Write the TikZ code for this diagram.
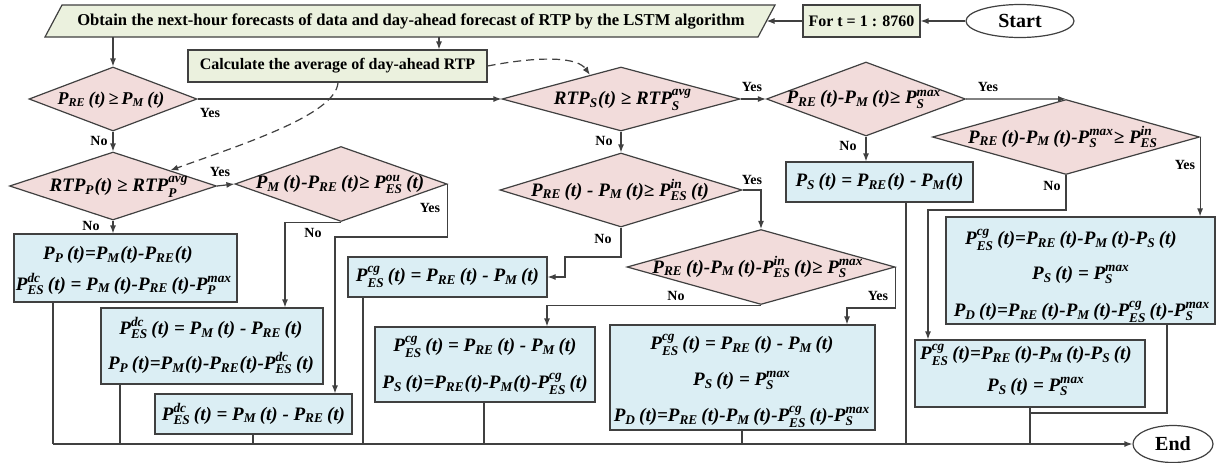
\documentclass[tikz,border=0pt]{standalone}
\usepackage{fontspec}
\setmainfont{Liberation Serif}
\usepackage{amsmath}
\usetikzlibrary{shapes.geometric,arrows.meta,calc}
\definecolor{pinkc}{RGB}{242,220,219}
\definecolor{bluec}{RGB}{219,238,244}
\definecolor{greenc}{RGB}{235,241,222}
\definecolor{linec}{RGB}{64,64,64}
\newcommand\Vs[2]{$\text{#1}_{\text{#2}}$}
\newcommand\Vb[3]{$\text{#1}_{\text{#2}}^{\text{#3}}$}
\newcommand\Tt{\,(t)}
\begin{document}
\begin{tikzpicture}[x=0.5pt,y=-0.5pt,
 ln/.style={draw=linec,line width=0.6pt},
 arr/.style={ln,-{Latex[length=4pt,width=3pt]}},
 dsh/.style={arr,dash pattern=on 4pt off 2.5pt},
 dia/.style={diamond,draw=linec,line width=0.6pt,fill=pinkc,inner sep=0pt},
 box/.style={rectangle,draw=linec,line width=0.6pt,fill=bluec,inner sep=0pt,font=\fontsize{9.5}{11}\selectfont\bfseries\itshape},
 gbox/.style={rectangle,draw=linec,line width=0.6pt,fill=greenc,inner sep=0pt,font=\fontsize{8}{10}\selectfont\bfseries},
 mt/.style={inner sep=0pt,font=\fontsize{9.5}{11}\selectfont\bfseries\itshape},
 mb/.style={mt,anchor=base},
 lab/.style={inner sep=0pt,font=\fontsize{7}{8}\selectfont\bfseries},
 term/.style={ellipse,draw=linec,line width=0.6pt,fill=white,inner sep=0pt,font=\fontsize{10}{12}\selectfont\bfseries}]

\useasboundingbox (0,0) rectangle (1217,462);
\fill[white] (0,0) rectangle (1217,462);

% ---------- top row
\node[term,minimum width=54pt,minimum height=16.5pt] (start) at (1020,21) {Start};
\node[gbox,minimum width=58.5pt,minimum height=16pt] (for) at (861.5,21) {For t = 1 : 8760};
\draw[ln,fill=greenc] (45,37) -- (62,5) -- (775,5) -- (758,37) -- cycle;
\node[inner sep=0pt,font=\fontsize{8.3}{10}\selectfont\bfseries] (obt) at (411,21) {Obtain the next-hour forecasts of data and day-ahead forecast of RTP by the LSTM algorithm};
\coordinate (pr) at (766.5,21);
\coordinate (pb1) at (113,37);
\coordinate (pb2) at (439,37);
\node[gbox,minimum width=149.5pt,minimum height=16pt] (calc) at (337.5,66) {Calculate the average of day-ahead RTP};

% ---------- diamonds
\node[dia,minimum width=84pt,minimum height=32pt] (d1) at (113,99) {};
\node[mt,font=\fontsize{9}{11}\selectfont\bfseries\itshape] (d1t) at (111,100) {\Vs{P}{RE}\Tt\,≥\,\Vs{P}{M}\Tt};
\node[dia,minimum width=119pt,minimum height=32pt] (d2) at (621,99) {};
\node[mt] (d2t) at (623,100) {\Vs{RTP}{S}(t) ≥ \Vb{RTP}{S}{avg}};
\node[dia,minimum width=99.5pt,minimum height=37pt] (d4) at (866,99) {};
\node[mt] (d4t) at (864,99) {\Vs{P}{RE}\Tt-\Vs{P}{M}\Tt≥ \Vb{P}{S}{max}};
\node[dia,minimum width=133.5pt,minimum height=37.5pt] (d5) at (1066,137) {};
\node[mt] (d5t) at (1063,137) {\Vs{P}{RE}\Tt-\Vs{P}{M}\Tt-\Vb{P}{S}{max}≥ \Vb{P}{ES}{in}};
\node[dia,minimum width=103.5pt,minimum height=34pt] (d3) at (113,186) {};
\node[mt] (d3t) at (119,187) {\Vs{RTP}{P}(t) ≥ \Vb{RTP}{P}{avg}};
\node[dia,minimum width=106pt,minimum height=37.5pt] (d6) at (341,184) {};
\node[mt] (d6t) at (340,184) {\Vs{P}{M}\Tt-\Vs{P}{RE}\Tt≥ \Vb{P}{ES}{ou}\Tt};
\node[dia,minimum width=121pt,minimum height=37pt] (d7) at (621,190) {};
\node[mt] (d7t) at (620,190) {\Vs{P}{RE}\Tt{} - \Vs{P}{M}\Tt≥ \Vb{P}{ES}{in}\Tt};
\node[dia,minimum width=134pt,minimum height=37.5pt] (d8) at (761,267) {};
\node[mt] (d8t) at (758,267) {\Vs{P}{RE}\Tt-\Vs{P}{M}\Tt-\Vb{P}{ES}{in}\Tt≥ \Vb{P}{S}{max}};

% ---------- process boxes
\node[box,minimum width=111.5pt,minimum height=34pt] (bP) at (125.5,268) {};
\node[mb] (bPa) at (118,259.5) {\Vs{P}{P}\Tt=\Vs{P}{M}(t)-\Vs{P}{RE}(t)};
\node[mb] (bPb) at (124,290) {\Vb{P}{ES}{dc}\Tt{} = \Vs{P}{M}\Tt-\Vs{P}{RE}\Tt-\Vb{P}{P}{max}};

\node[box,minimum width=111pt,minimum height=38pt] (bdc1) at (212,346) {};
\node[mb] (bdc1a) at (211,334.5) {\Vb{P}{ES}{dc}\Tt{} = \Vs{P}{M}\Tt{} - \Vs{P}{RE}\Tt};
\node[mb] (bdc1b) at (211,369.5) {\Vs{P}{P}\Tt=\Vs{P}{M}(t)-\Vs{P}{RE}(t)-\Vb{P}{ES}{dc}\Tt};

\node[box,minimum width=98.5pt,minimum height=20pt] (bdc2) at (253.5,414) {\Vb{P}{ES}{dc}\Tt{} = \Vs{P}{M}\Tt{} - \Vs{P}{RE}\Tt};

\node[box,minimum width=99.5pt,minimum height=20pt] (bcg1) at (447.5,277) {\Vb{P}{ES}{cg}\Tt{} = \Vs{P}{RE}\Tt{} - \Vs{P}{M}\Tt};

\node[box,minimum width=110pt,minimum height=37.5pt] (bcg2) at (485,364.5) {};
\node[mb] (bcg2a) at (485,351.5) {\Vb{P}{ES}{cg}\Tt{} = \Vs{P}{RE}\Tt{} - \Vs{P}{M}\Tt};
\node[mb] (bcg2b) at (485,388.5) {\Vs{P}{S}\Tt=\Vs{P}{RE}(t)-\Vs{P}{M}(t)-\Vb{P}{ES}{cg}\Tt};

\node[box,minimum width=132.5pt,minimum height=52.5pt] (bcg3) at (742.5,377.5) {};
\node[mb] (bcg3a) at (742,349.5) {\Vb{P}{ES}{cg}\Tt{} = \Vs{P}{RE}\Tt{} - \Vs{P}{M}\Tt};
\node[mb] (bcg3b) at (742,385.5) {\Vs{P}{S}\Tt{} = \Vb{P}{S}{max}};
\node[mb] (bcg3c) at (742,421.5) {\Vs{P}{D}\Tt=\Vs{P}{RE}\Tt-\Vs{P}{M}\Tt-\Vb{P}{ES}{cg}\Tt-\Vb{P}{S}{max}};

\node[box,minimum width=93.5pt,minimum height=20pt] (bS) at (879.5,182) {\Vs{P}{S}\Tt{} = \Vs{P}{RE}(t) - \Vs{P}{M}(t)};

\node[box,minimum width=134.5pt,minimum height=53.5pt] (bE1) at (1080.5,270.5) {};
\node[mb] (bE1a) at (1071,244.5) {\Vb{P}{ES}{cg}\Tt=\Vs{P}{RE}\Tt-\Vs{P}{M}\Tt-\Vs{P}{S}\Tt};
\node[mb] (bE1b) at (1081,279.5) {\Vs{P}{S}\Tt{} = \Vb{P}{S}{max}};
\node[mb] (bE1c) at (1082,316.5) {\Vs{P}{D}\Tt=\Vs{P}{RE}\Tt-\Vs{P}{M}\Tt-\Vb{P}{ES}{cg}\Tt-\Vb{P}{S}{max}};

\node[box,minimum width=115pt,minimum height=33.5pt] (bE2) at (1030,373.5) {};
\node[mb] (bE2a) at (1026,359.5) {\Vb{P}{ES}{cg}\Tt=\Vs{P}{RE}\Tt-\Vs{P}{M}\Tt-\Vs{P}{S}\Tt};
\node[mb] (bE2b) at (1036,391.5) {\Vs{P}{S}\Tt{} = \Vb{P}{S}{max}};

\node[term,minimum width=40pt,minimum height=18.5pt] (end) at (1173,444) {End};

% ---------- connectors
\draw[arr] (start.west) -- (for.east);
\draw[arr] (for.west) -- (pr);
\draw[arr] (pb1) -- (d1.north);
\draw[arr] (pb2) -- (pb2 |- calc.north);
\draw[arr] (d1.east) -- (d2.west);
\draw[arr] (d1.south) -- (d3.north);
\draw[dsh] (calc.east) .. controls (545,55) and (578,58) .. ($(d2.north)!0.26!(d2.west)$);
\draw[dsh] (338,0 |- calc.south) .. controls (336,115) and (240,145) .. ($(d3.north)!0.55!(d3.east)$);
\draw[arr] (d2.east) -- (d4.west);
\draw[arr] (d2.south) -- (d7.north);
\draw[arr] (d4.east) -- (d5.north);
\draw[arr] (d4.south) -- (d4.south |- bS.north);
\draw[arr] (d5.east) -- (d5.east |- bE1.north);
\draw[arr] (d5.south) -- (1066,210) -- (928,210) -- (928,0 |- bE2.north);
\draw[arr] (d3.east) -- (d6.west);
\draw[arr] (d3.south) -- (d3.south |- bP.north);
\draw[arr] (d6.south) -- (285,0 |- d6.south) -- (285,0 |- bdc1.north);
\draw[arr] (d6.east) -- (d6.east |- 0,237) -- (335,237) -- (335,0 |- bdc2.north);
\draw[arr] (d7.east) -- (d8.north |- d7.east) -- (d8.north);
\draw[arr] (d7.south) -- (621,257) -- (565,257) -- (565,277) -- (bcg1.east);
\draw[arr] (d8.south) -- (547,0 |- d8.south) -- (547,0 |- bcg2.north);
\draw[arr] (d8.east) -- (d8.east |- 0,308) -- (847,308) -- (847,0 |- bcg3.north);

% exits to the common bottom line
\coordinate (bj) at (1030,444);
\draw[ln] (53,444) -- (bj);
\draw[ln] (53,0 |- bP.south) -- (53,444);
\draw[ln] (120,0 |- bdc1.south) -- (120,444);
\draw[ln] (253,0 |- bdc2.south) -- (253,444);
\draw[ln] (363,0 |- bcg1.south) -- (363,444);
\draw[ln] (484,0 |- bcg2.south) -- (484,444);
\draw[ln] (742,0 |- bcg3.south) -- (742,444);
\draw[ln] (906,0 |- bS.south) -- (906,444);
\draw[ln] (1167,0 |- bE1.south) -- (1167,413) -- (1030,413);
\draw[ln] (1030,0 |- bE2.south) -- (bj);
\draw[arr] (bj) -- (end.west);

% ---------- labels
\node[lab] (y1) at (210,113) {Yes};
\node[lab] (n1) at (99,141) {No};
\node[lab] (y2) at (752,87) {Yes};
\node[lab] (n2) at (604,141) {No};
\node[lab] (y4) at (988,87) {Yes};
\node[lab] (n4) at (848,146) {No};
\node[lab] (y5) at (1185,165) {Yes};
\node[lab] (n5) at (1052,186) {No};
\node[lab] (y3) at (220,172) {Yes};
\node[lab] (n3) at (91,226) {No};
\node[lab] (n6) at (313,233) {No};
\node[lab] (y6) at (430,208) {Yes};
\node[lab] (y7) at (752,180) {Yes};
\node[lab] (n7) at (603,239) {No};
\node[lab] (n8) at (676,296) {No};
\node[lab] (y8) at (878,296) {Yes};
\end{tikzpicture}
\end{document}
